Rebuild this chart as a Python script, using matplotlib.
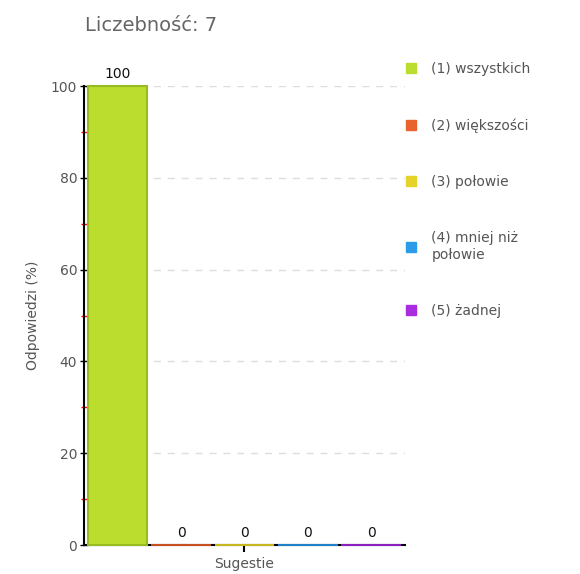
import matplotlib.pyplot as plt
from matplotlib.lines import Line2D

categories = ['(1) wszystkich', '(2) większości', '(3) połowie', '(4) mniej niż\npołowie', '(5) żadnej']
values = [100, 0, 0, 0, 0]
colors = ['#bbdd2e', '#e8642c', '#e6d32a', '#2c9ce8', '#aa2ce0']
edges = ['#99bb22', '#c85020', '#c8b820', '#2080c8', '#8a20c0']
title = 'Liczebność: 7'

fig = plt.figure(figsize=(5.8, 5.74), dpi=100)
ax = fig.add_axes((0.145, 0.0505, 0.553, 0.7995))

x = list(range(len(values)))
bars = ax.bar(x, values, width=0.94, color=colors, edgecolor=edges, linewidth=1.5, zorder=3, clip_on=False)
for xi, v in zip(x, values):
    ax.text(xi, v + 1.2, str(v), ha='center', va='bottom', fontsize=10, color='#111111')

ax.set_xlim(-0.53, 4.53)
ax.set_ylim(0, 100)
ax.set_yticks([0, 20, 40, 60, 80, 100])
ax.set_yticks([10, 30, 50, 70, 90], minor=True)
ax.set_xticks([2])
ax.set_xticklabels([''])
ax.tick_params(axis='y', which='major', direction='inout', length=6, width=1, colors='black', labelcolor='#555555', labelsize=10, pad=2)
ax.tick_params(axis='y', which='minor', direction='inout', length=5, width=1, color='red')
ax.tick_params(axis='x', direction='out', length=5, width=1.5, colors='black')
for s in ['top', 'right']:
    ax.spines[s].set_visible(False)
ax.spines['left'].set_linewidth(1.5)
ax.spines['bottom'].set_linewidth(1.5)
ax.yaxis.grid(True, linestyle=(0, (5, 5)), color='#dddddd', linewidth=1, zorder=0)
ax.set_axisbelow(True)

ax.set_ylabel('Odpowiedzi (%)', color='#555555', fontsize=10, labelpad=8)
ax.set_xlabel('Sugestie', color='#555555', fontsize=10, labelpad=0)
fig.text(0.147, 0.956, title, fontsize=14, color='#666666', ha='left', va='center')

handles = [Line2D([], [], marker='s', linestyle='', markersize=7, markerfacecolor=c, markeredgecolor=c) for c in colors]
fig.legend(handles, categories, loc='upper left', bbox_to_anchor=(0.672, 0.914), frameon=False,
           fontsize=10, labelcolor='#555555', labelspacing=3.05, handletextpad=0.9, handlelength=1.2)

fig.savefig('out.png', dpi=100)
